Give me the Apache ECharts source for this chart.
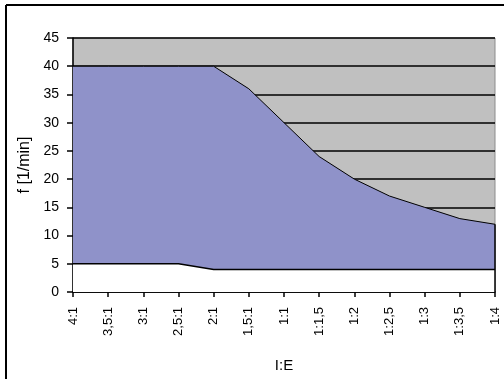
<!DOCTYPE html>
<html>
<head>
<meta charset="utf-8">
<script src="https://cdn.jsdelivr.net/npm/echarts@6/dist/echarts.min.js"></script>
<style>
html,body{margin:0;padding:0;background:#fff;}
#c{width:504px;height:379px;}
</style>
</head>
<body>
<div id="c"></div>
<script>
var categories = ['4:1','3,5:1','3:1','2,5:1','2:1','1,5:1','1:1','1:1,5','1:2','1:2,5','1:3','1:3,5','1:4'];
var lowerValues = [5,5,5,5,4,4,4,4,4,4,4,4,4];
var upperValues = [40,40,40,40,40,36,30,24,20,17,15,13,12];
var yTicks = {min:0, max:45, interval:5};
var xName = 'I:E';
var yName = 'f [1/min]';

var bandValues = upperValues.map(function(v,i){ return v - lowerValues[i]; });
var lastCat = categories[categories.length-1];

var chart = echarts.init(document.getElementById('c'), null, {renderer:'canvas'});
var font = 'Liberation Sans, Arial, sans-serif';
chart.setOption({
  animation:false,
  backgroundColor:'#ffffff',
  textStyle:{fontFamily:font},
  graphic:[
    {type:'line', shape:{x1:6,y1:5,x2:504,y2:5}, style:{stroke:'#000',lineWidth:2}, z:100},
    {type:'line', shape:{x1:6,y1:5,x2:6,y2:379}, style:{stroke:'#000',lineWidth:2}, z:100}
  ],
  grid:{left:73,right:9,top:38,bottom:87,show:true,backgroundColor:'#c0c0c0',borderColor:'#8c8c8c',borderWidth:1,outerBoundsMode:'none'},
  xAxis:{
    type:'category', data:categories, boundaryGap:false,
    name:xName, nameLocation:'middle', nameGap:66,
    nameTextStyle:{color:'#000',fontSize:15,fontFamily:font},
    axisLine:{lineStyle:{color:'#000',width:1.5}},
    axisTick:{show:true,length:5,lineStyle:{color:'#000',width:1.5}},
    axisLabel:{rotate:90,margin:15,color:'#000',fontSize:13,fontFamily:font,interval:0},
    splitLine:{show:false}
  },
  yAxis:{
    type:'value', min:yTicks.min, max:yTicks.max, interval:yTicks.interval,
    name:yName, nameLocation:'middle', nameGap:40,
    nameTextStyle:{color:'#000',fontSize:16,fontFamily:font},
    axisLine:{show:true,lineStyle:{color:'#000',width:1.5}},
    axisTick:{show:true,length:6,lineStyle:{color:'#000',width:1.5}},
    axisLabel:{margin:14,color:'#000',fontSize:14,fontFamily:font},
    splitLine:{show:true,lineStyle:{color:'#000',width:1.5}}
  },
  series:[
    {type:'line', stack:'s', data:lowerValues, symbol:'none',
     lineStyle:{color:'#000',width:1.5}, areaStyle:{color:'#ffffff',opacity:1}, z:3},
    {type:'line', stack:'s', data:bandValues, symbol:'none',
     lineStyle:{color:'#000',width:1}, areaStyle:{color:'#8f92c9',opacity:1}, z:2,
     markLine:{silent:true,symbol:'none',label:{show:false},
       lineStyle:{color:'#000',width:1.5,type:'solid'},
       data:[[{coord:[lastCat,0]},{coord:[lastCat,upperValues[upperValues.length-1]]}]]}}
  ]
});
</script>
</body>
</html>
